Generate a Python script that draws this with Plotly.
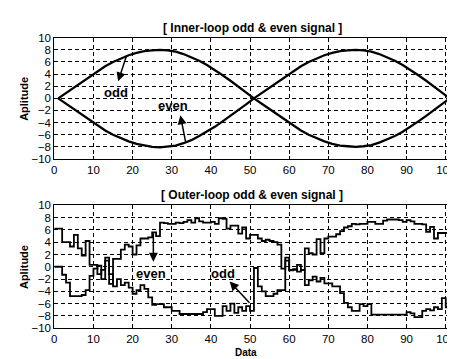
import plotly.graph_objects as go

# ---------------- data ----------------
# Inner-loop (top) signals, sampled every 2 data units starting at 1
inner_x = [1, 3, 5, 7, 9, 11, 13, 15, 17, 19, 21, 23, 25, 27, 29, 31, 33, 35, 37, 39,
           41, 43, 45, 47, 49, 51, 53, 55, 57, 59, 61, 63, 65, 67, 69, 71, 73, 75, 77, 79,
           81, 83, 85, 87, 89, 91, 93, 95, 97, 99, 101]
inner_odd = [0.0, 0.9, 1.8, 2.7, 3.6, 4.5, 5.3, 6.0, 6.6, 7.1, 7.5, 7.8, 7.9, 8.0, 7.9, 7.7,
             7.3, 6.8, 6.2, 5.5, 4.7, 3.8, 2.9, 1.9, 1.0, 0.0, -0.9, -1.8, -2.7, -3.6, -4.5,
             -5.3, -6.0, -6.6, -7.1, -7.5, -7.8, -7.9, -8.0, -7.9, -7.7, -7.3, -6.8, -6.2,
             -5.5, -4.7, -3.8, -2.9, -1.9, -1.0, 0.0]
inner_even = [0.0, -0.9, -1.8, -2.7, -3.6, -4.5, -5.3, -6.0, -6.6, -7.1, -7.5, -7.8, -8.0,
              -8.1, -8.0, -7.8, -7.4, -6.9, -6.2, -5.5, -4.7, -3.8, -2.9, -1.9, -1.0, 0.0,
              0.9, 1.8, 2.7, 3.6, 4.5, 5.3, 6.0, 6.6, 7.1, 7.5, 7.8, 7.9, 8.0, 7.9, 7.7,
              7.3, 6.8, 6.2, 5.5, 4.7, 3.8, 2.9, 1.9, 1.0, 0.0]

# Outer-loop (bottom) step signals, one value per data index 0..101
outer_x = list(range(0, 102))
outer_even = [6.2, 6.2, 4.0, 4.0, 3.3, 5.2, 3.0, 1.8, 4.2, 0.3,
              0.3, -1.2, -0.5, 1.0, -2.8, 1.3, 1.3, 2.8, 3.6, 3.3,
              2.0, 3.5, 4.6, 4.6, 4.8, 5.6, 5.0, 7.2, 7.1, 7.0,
              7.0, 7.2, 7.1, 7.3, 7.6, 7.2, 7.9, 7.4, 7.2, 7.2,
              7.3, 7.0, 7.9, 7.8, 6.2, 6.7, 6.7, 5.4, 6.4, 4.6,
              5.2, 5.2, 4.6, 4.2, 4.4, 4.2, 4.0, 3.6, -0.3, 1.5,
              -0.5, -0.5, 0.3, -0.5, 3.0, 2.2, 2.0, 4.5, 2.2, 4.6,
              4.9, 4.9, 5.3, 5.8, 6.4, 6.6, 7.0, 6.9, 7.0, 7.0,
              7.3, 7.3, 7.0, 7.0, 7.5, 7.7, 7.7, 7.7, 7.6, 7.3,
              7.6, 7.4, 7.0, 7.0, 6.9, 5.7, 6.5, 4.6, 5.5, 5.5,
              5.5, 5.5]
outer_odd = [0.0, 0.0, -1.3, -2.6, -4.8, -4.8, -4.8, -4.6, -3.8, -1.5,
             -0.3, 0.2, -2.0, 1.5, -1.2, -3.2, -2.0, -3.0, -2.6, -3.4,
             -4.4, -3.8, -3.0, -3.6, -5.0, -6.2, -6.1, -6.1, -6.6, -6.6,
             -7.2, -7.2, -7.7, -7.7, -7.7, -7.7, -7.7, -7.7, -7.4, -6.9,
             -6.9, -8.0, -8.0, -6.4, -7.2, -6.0, -7.5, -6.6, -7.2, -6.4,
             -7.2, -0.2, -3.2, -4.0, -4.8, -4.8, -4.4, -3.8, -3.8, 1.0,
             -0.6, -0.4, -0.8, -0.5, -3.0, -2.2, -1.6, -2.4, -1.8, -2.7,
             -2.7, -3.2, -3.2, -4.3, -5.9, -6.6, -7.2, -7.2, -6.1, -6.4,
             -6.1, -7.8, -7.8, -7.8, -7.8, -7.8, -7.8, -7.8, -7.8, -7.8,
             -7.4, -7.6, -8.2, -8.2, -7.2, -6.9, -7.1, -6.6, -6.9, -5.1,
             -6.6, -6.1]

x_ticks = [0, 10, 20, 30, 40, 50, 60, 70, 80, 90, 100]
y_ticks = [-10, -8, -6, -4, -2, 0, 2, 4, 6, 8, 10]

top_title = "[ Inner-loop odd & even signal ]"
bottom_title = "[ Outer-loop odd & even signal ]"
y_label = "Aplitude"
x_label = "Data"

# ---------------- figure ----------------
W, H = 455, 359
FONT = "Liberation Sans, Arial, sans-serif"

fig = go.Figure()
fig.add_trace(go.Scatter(x=inner_x, y=inner_odd, mode="lines",
                         line=dict(color="black", width=2.3), xaxis="x", yaxis="y"))
fig.add_trace(go.Scatter(x=inner_x, y=inner_even, mode="lines",
                         line=dict(color="black", width=2.3), xaxis="x", yaxis="y"))
fig.add_trace(go.Scatter(x=outer_x, y=outer_even, mode="lines",
                         line=dict(color="black", width=1.8, shape="hv"), xaxis="x2", yaxis="y2"))
fig.add_trace(go.Scatter(x=outer_x, y=outer_odd, mode="lines",
                         line=dict(color="black", width=1.8, shape="hv"), xaxis="x2", yaxis="y2"))

xdom = [44 / W, 447.5 / W]
top_dom = [1 - 150 / H, 1 - 24.5 / H]
bot_dom = [1 - 325 / H, 1 - 198 / H]
XR = [0, 101.5]

axis_common = dict(
    showline=True, linecolor="black", linewidth=1, mirror="ticks",
    ticks="inside", ticklen=3, tickcolor="black",
    showgrid=True, gridcolor="black", gridwidth=1, griddash="4px,3px",
    zeroline=False, tickfont=dict(family=FONT, size=11.5, color="black"),
)

fig.update_layout(
    width=W, height=H, margin=dict(l=0, r=0, t=0, b=0),
    paper_bgcolor="white", plot_bgcolor="white", showlegend=False,
    xaxis=dict(domain=xdom, range=XR, tickvals=x_ticks, anchor="y", **axis_common),
    yaxis=dict(domain=top_dom, range=[-10, 10], tickvals=y_ticks, anchor="x", **axis_common),
    xaxis2=dict(domain=xdom, range=XR, tickvals=x_ticks, anchor="y2", **axis_common),
    yaxis2=dict(domain=bot_dom, range=[-10, 10], tickvals=y_ticks, anchor="x2", **axis_common),
)

def ptext(x, y, text, size=10, angle=0):
    fig.add_annotation(x=x / W, y=1 - y / H, xref="paper", yref="paper", text=text,
                       showarrow=False, textangle=angle, xanchor="center", yanchor="middle",
                       font=dict(family=FONT, size=size, color="black", weight="bold"))

ptext(245, 14, top_title, 12)
ptext(245, 187, bottom_title, 12)
ptext(13, 88, y_label, 11, -90)
ptext(13, 262, y_label, 11, -90)
ptext(239, 350, x_label, 10)

def dtext(x, y, text, xr, yr):
    fig.add_annotation(x=x, y=y, xref=xr, yref=yr, text=text, showarrow=False,
                       font=dict(family=FONT, size=13, color="black", weight="bold"))

def darrow(hx, hy, tx, ty, xr, yr):
    fig.add_annotation(x=hx, y=hy, ax=tx, ay=ty, xref=xr, yref=yr, axref=xr, ayref=yr,
                       text="", showarrow=True, arrowhead=2, arrowsize=1.2,
                       arrowwidth=1.5, arrowcolor="black", standoff=0, startstandoff=0)

# top labels
dtext(15.7, 0.9, "odd", "x", "y")
darrow(16.3, 2.8, 18.6, 7.3, "x", "y")
dtext(30.3, -1.1, "even", "x", "y")
darrow(32.2, -2.8, 33.6, -7.4, "x", "y")
# bottom labels
dtext(24.6, -1.1, "even", "x2", "y2")
darrow(25.3, 0.8, 25.3, 5.7, "x2", "y2")
dtext(43.1, -1.1, "odd", "x2", "y2")
darrow(44.8, -2.4, 50.2, -6.1, "x2", "y2")

fig.write_html("out.html")
